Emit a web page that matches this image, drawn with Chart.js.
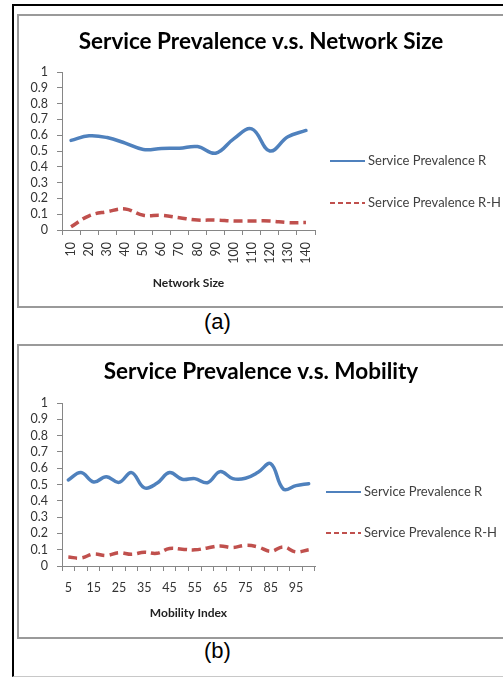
<!DOCTYPE html>
<html>
<head>
<meta charset="utf-8">
<script src="https://cdn.jsdelivr.net/npm/chart.js@4/dist/chart.umd.min.js"></script>
<style>
  body { margin: 0; background: #fff; width: 503px; height: 677px; overflow: hidden; position: relative; }
  #outer { position: absolute; left: 12px; top: 4px; width: 600px; height: 670px;
           border-left: 2px solid #000; border-top: 2px solid #000; border-bottom: 1px solid #c8c8c8; }
  .box { position: absolute; left: 17px; width: 600px; border: 2px solid #9a9a9a; }
  canvas { position: absolute; left: 19px; }
  .cap { position: absolute; left: 204px; font: 22px "Liberation Sans", Arial, sans-serif; color: #000; }
</style>
</head>
<body>
<div id="outer"></div>
<div class="box" style="top:14px;height:290px"></div>
<div class="box" style="top:344px;height:291px"></div>
<canvas id="chartA" width="484" height="290" style="top:16px"></canvas>
<canvas id="chartB" width="484" height="290" style="top:347px"></canvas>
<div class="cap" style="top:309px">(a)</div>
<div class="cap" style="top:638px">(b)</div>
<script>
// network size chart
const sizes = ['10','20','30','40','50','60','70','80','90','100','110','120','130','140'];
const netR  = [0.567,0.596,0.585,0.55,0.51,0.516,0.518,0.528,0.486,0.577,0.64,0.50,0.59,0.63];
const netRH = [0.02,0.09,0.116,0.133,0.093,0.093,0.078,0.063,0.063,0.057,0.057,0.057,0.047,0.047];

// mobility chart
const mobility = ['5','10','15','20','25','30','35','40','45','50','55','60','65','70','75','80','85','90','95','100'];
const mobR  = [0.528,0.573,0.515,0.548,0.513,0.573,0.48,0.507,0.573,0.532,0.536,0.511,0.579,0.536,0.538,0.575,0.628,0.472,0.493,0.505];
const mobRH = [0.055,0.049,0.074,0.064,0.082,0.072,0.084,0.078,0.107,0.103,0.099,0.111,0.123,0.113,0.127,0.117,0.09,0.117,0.086,0.10];

const seriesNames = ['Service Prevalence R', 'Service Prevalence R-H'];
const FONT = 'Lato, "Open Sans", sans-serif';
const axisGray = '#868686';

// title across the whole canvas + legend to the right, drawn like the excel one
const sideLegend = {
  id: 'sideLegend',
  afterDraw(chart, args, o) {
    const ctx = chart.ctx;
    ctx.save();
    ctx.font = 'bold 22.5px ' + FONT;
    ctx.fillStyle = '#000';
    ctx.textAlign = 'center';
    ctx.textBaseline = 'middle';
    ctx.fillText(o.title, chart.width / 2, o.titleY);

    ctx.font = '13px ' + FONT;
    ctx.fillStyle = '#404040';
    ctx.textAlign = 'left';
    chart.data.datasets.forEach(function (ds, i) {
      const y = o.y[i];
      ctx.strokeStyle = ds.borderColor;
      ctx.lineWidth = 2;
      ctx.setLineDash(ds.borderDash ? [5, 3] : []);
      ctx.beginPath();
      ctx.moveTo(o.x, y);
      ctx.lineTo(o.x + 35, y);
      ctx.stroke();
      ctx.setLineDash([]);
      ctx.fillText(ds.label, o.x + 38, y);
    });
    ctx.restore();
  }
};

function makeChart(id, labels, r, rh, cfg) {
  return new Chart(document.getElementById(id), {
    type: 'line',
    data: {
      labels: labels,
      datasets: [{
        label: seriesNames[0],
        data: r,
        borderColor: '#4F81BD',
        borderWidth: 3.5,
        tension: 0.4,
        pointRadius: 0,
        borderCapStyle: 'round'
      }, {
        label: seriesNames[1],
        data: rh,
        borderColor: '#C0504D',
        borderWidth: 3.5,
        borderDash: [9, 5],
        tension: 0.4,
        pointRadius: 0
      }]
    },
    options: {
      responsive: false,
      animation: false,
      layout: { padding: { left: 0, top: 56, right: 188, bottom: cfg.padBottom } },
      plugins: {
        legend: { display: false },
        tooltip: { enabled: false },
        title: { display: false },
        sideLegend: { x: cfg.legendX, y: cfg.legendY, title: cfg.title, titleY: cfg.titleY }
      },
      scales: {
        x: {
          offset: true,
          afterFit: function (s) { s.height = cfg.xHeight; },
          border: { color: axisGray, width: 1 },
          grid: { offset: true, drawOnChartArea: false, drawTicks: true, tickLength: 5, color: axisGray },
          ticks: {
            autoSkip: false,
            minRotation: cfg.rotate,
            maxRotation: cfg.rotate,
            padding: cfg.tickPad,
            color: '#333',
            font: { family: FONT, size: 12.5 },
            callback: function (v, i) {
              return (i % cfg.every === 0) ? this.getLabelForValue(v) : '';
            }
          },
          title: {
            display: true,
            text: cfg.xTitle,
            color: '#222',
            padding: 0,
            font: { family: FONT, size: 12, weight: 'bold' }
          }
        },
        y: {
          min: 0,
          max: 1,
          afterFit: function (s) { s.width = 43; },
          border: { color: axisGray, width: 1 },
          grid: { drawOnChartArea: false, drawTicks: true, tickLength: 5, color: axisGray },
          ticks: {
            stepSize: 0.1,
            autoSkip: false,
            padding: 9,
            color: '#333',
            font: { family: FONT, size: 12.5 },
            callback: function (v) { return String(Math.round(v * 10) / 10); }
          }
        }
      }
    },
    plugins: [sideLegend]
  });
}

makeChart('chartA', sizes, netR, netRH, {
  title: 'Service Prevalence v.s. Network Size',
  xTitle: 'Network Size',
  titleY: 26, padBottom: 16, xHeight: 60,
  rotate: 90, every: 1, tickPad: 7,
  legendX: 311, legendY: [145, 187]
});

makeChart('chartB', mobility, mobR, mobRH, {
  title: 'Service Prevalence v.s. Mobility',
  xTitle: 'Mobility Index',
  titleY: 25, padBottom: 17, xHeight: 54,
  rotate: 0, every: 2, tickPad: 9,
  legendX: 307, legendY: [145, 186]
});
</script>
</body>
</html>
